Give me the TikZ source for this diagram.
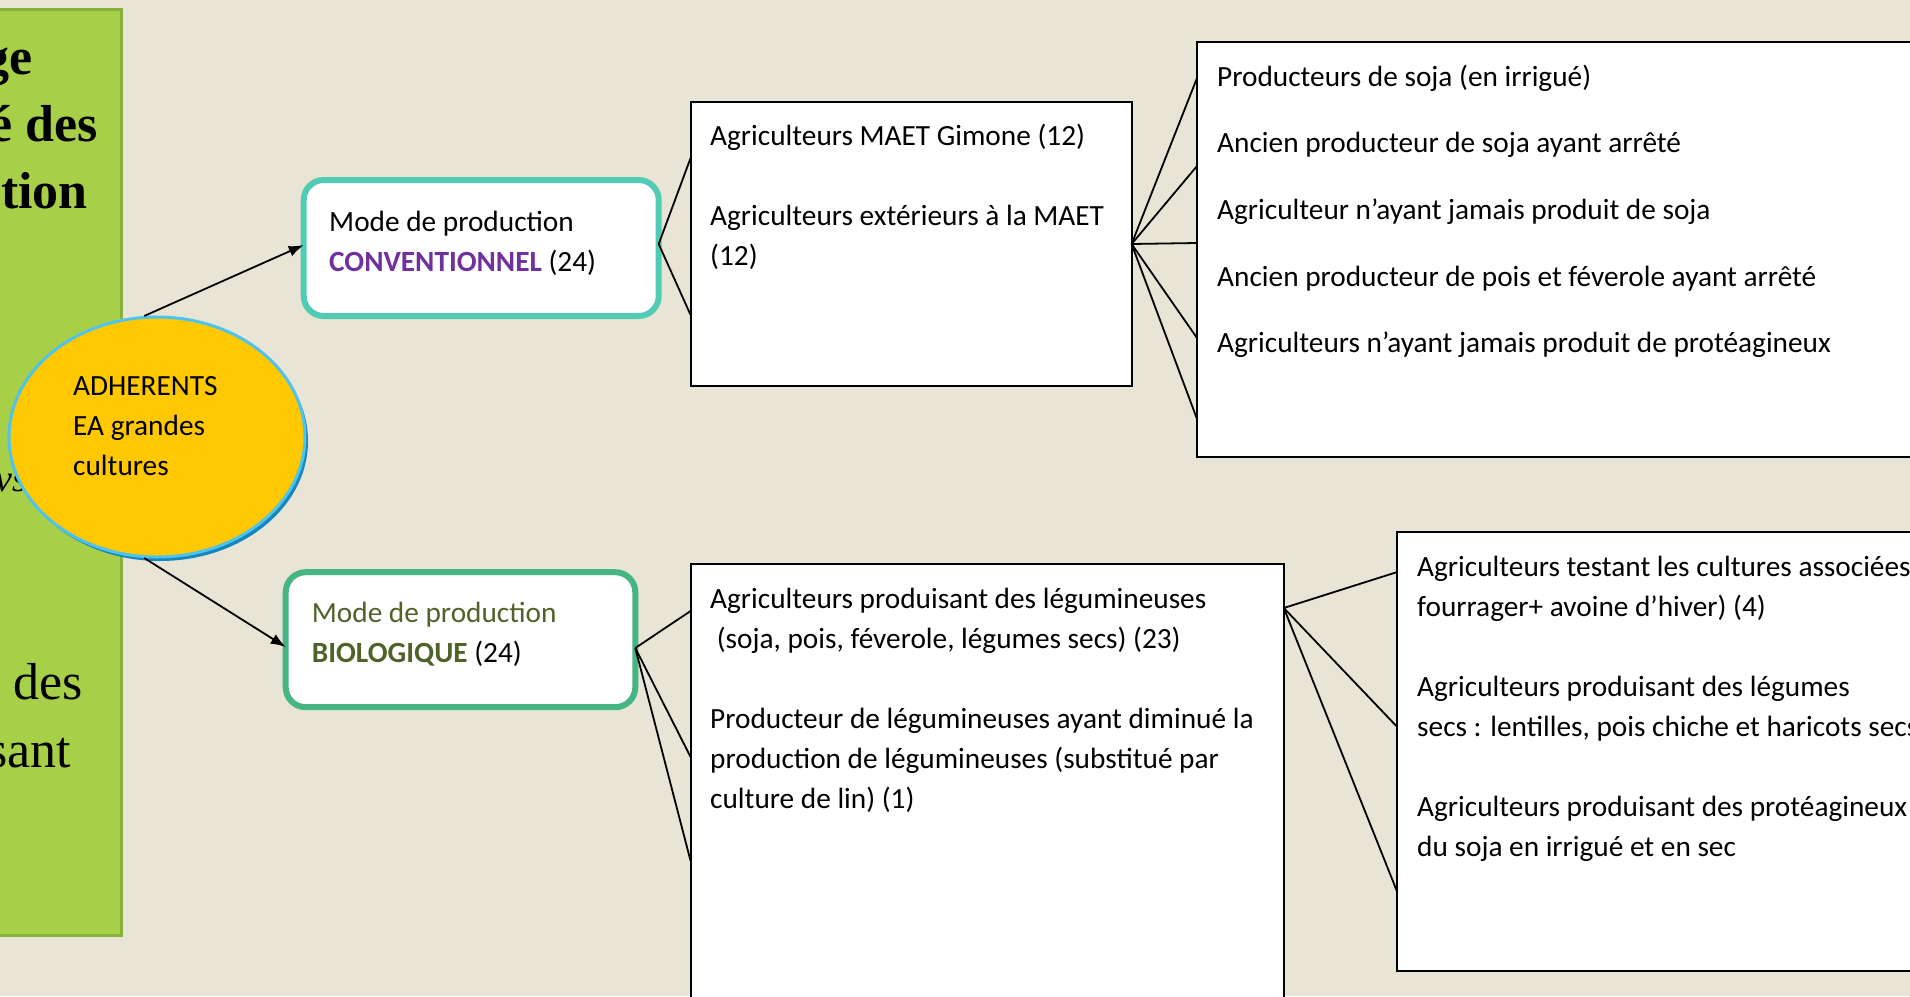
\documentclass[tikz,border=0pt]{standalone}
\usepackage{fontspec}
\setmainfont{Carlito}
\newfontfamily\panelfont{Liberation Serif}
\usetikzlibrary{arrows.meta,shapes.geometric,shadows}

\definecolor{bgcol}{RGB}{232,229,214}
\definecolor{panelfill}{RGB}{168,207,72}
\definecolor{panelline}{RGB}{135,178,58}
\definecolor{ellfill}{RGB}{255,200,0}
\definecolor{ellline}{RGB}{78,195,238}
\definecolor{ellshadow}{RGB}{22,134,190}
\definecolor{convline}{RGB}{82,203,181}
\definecolor{bioline}{RGB}{68,181,131}
\definecolor{convpurple}{RGB}{112,48,160}
\definecolor{bioolive}{RGB}{79,98,40}

% multi-line texts are placed by the baseline of their last line
\tikzset{
  txt/.style={anchor=base west, align=left, inner sep=0pt,
    font=\fontsize{29.3}{40}\selectfont},
  paneltxt/.style={anchor=base east, inner sep=0pt,
    font=\panelfont\bfseries\fontsize{52}{60}\selectfont},
  panelreg/.style={anchor=base east, inner sep=0pt,
    font=\panelfont\fontsize{52}{60}\selectfont},
  panelit/.style={anchor=base west, inner sep=0pt,
    font=\panelfont\itshape\fontsize{38}{44}\selectfont},
  adh/.style={ellipse, minimum width=296, minimum height=240, inner sep=0pt,
    fill=ellfill, draw=ellline, line width=3pt,
    drop shadow={shadow xshift=3pt, shadow yshift=-4pt, fill=ellshadow, opacity=1}},
  modebox/.style={rectangle, rounded corners=20pt, fill=white, line width=6pt,
    outer sep=0pt, inner sep=0pt},
  catbox/.style={rectangle, fill=white, draw=black, line width=2pt,
    outer sep=0pt, inner sep=0pt},
  link/.style={draw=black, line width=1.8pt},
  arr/.style={link, -{Latex[length=15pt,width=11pt]}}
}

\begin{document}
\begin{tikzpicture}[x=1pt,y=-1pt]
  \useasboundingbox (0,0) rectangle (1910,996);
  \fill[bgcol] (0,0) rectangle (1910,996);

  % bandeau vert
  \draw[fill=panelfill, draw=panelline, line width=3pt] (-10,9) rectangle (121,935);
  \node[paneltxt] (p1) at (33,74) {ge};
  \node[paneltxt] (p2) at (98,141) {é des};
  \node[paneltxt] (p3) at (88,208) {tion};
  \node[panelit] (p4) at (-5,491) {vs};
  \node[panelreg] (p5) at (83,699) {des};
  \node[panelreg] (p6) at (71,767) {sant};

  % adherents
  \node[adh] (adh) at (157,437) {};
  \node[txt] (adhText) at (73,475) {ADHERENTS\\EA grandes\\cultures};

  % modes de production
  \node[modebox, draw=convline, minimum width=355, minimum height=136] (conv) at (481.2,248) {};
  \node[txt] (convText) at (329,271)
    {Mode de production\\\textcolor{convpurple}{\textbf{CONVENTIONNEL}} (24)};
  \node[modebox, draw=bioline, minimum width=349.6, minimum height=135] (bio) at (460.5,639.7) {};
  \node[txt, text=bioolive] (bioText) at (311.7,662)
    {Mode de production\\\textbf{BIOLOGIQUE} \textcolor{black}{(24)}};

  % categories
  \node[catbox, minimum width=441, minimum height=284] (maet) at (911.1,244) {};
  \node[txt] (maetText) at (710,265)
    {Agriculteurs MAET Gimone (12)\\[40pt]Agriculteurs extérieurs à la MAET\\(12)};
  \node[catbox, minimum width=800, minimum height=415] (soja) at (1597,249.5) {};
  \node[txt, font=\fontsize{29.3}{66.7}\selectfont] (sojaText) at (1217,352.8)
    {Producteurs de soja (en irrigué)\\Ancien producteur de soja ayant arrêté\\Agriculteur n’ayant jamais produit de soja\\Ancien producteur de pois et féverole ayant arrêté\\Agriculteurs n’ayant jamais produit de protéagineux};
  \node[catbox, minimum width=593.2, minimum height=486] (legum) at (987.2,807) {};
  \node[txt] (legumText) at (710,808)
    {Agriculteurs produisant des légumineuses\\\ (soja, pois, féverole, légumes secs) (23)\\[40pt]Producteur de légumineuses ayant diminué la\\production de légumineuses (substitué par\\culture de lin) (1)};
  \node[catbox, minimum width=602.7, minimum height=438.5] (assoc) at (1698.6,751.3) {};
  \node[txt] (assocText) at (1417,856)
    {Agriculteurs testant les cultures associées\\fourrager+ avoine d’hiver) (4)\\[40pt]Agriculteurs produisant des légumes\\secs : lentilles, pois chiche et haricots secs\\[40pt]Agriculteurs produisant des protéagineux\\du soja en irrigué et en sec};

  % liaisons
  \draw[arr] (adh.96) -- (conv.west |- 0,245);
  \draw[arr] (adh.264) -- (bio.west |- 0,647);
  \foreach \y in {158,315}
    \draw[link] (conv.east |- 0,244) -- (maet.west |- 0,\y);
  \foreach \y in {78,166,243,338,419}
    \draw[link] (maet.east) -- (soja.west |- 0,\y);
  \foreach \y in {611,757,861}
    \draw[link] (bio.east |- 0,648) -- (legum.west |- 0,\y);
  \foreach \y in {572,727,892}
    \draw[link] (legum.east |- 0,608) -- (assoc.west |- 0,\y);
\end{tikzpicture}
\end{document}
